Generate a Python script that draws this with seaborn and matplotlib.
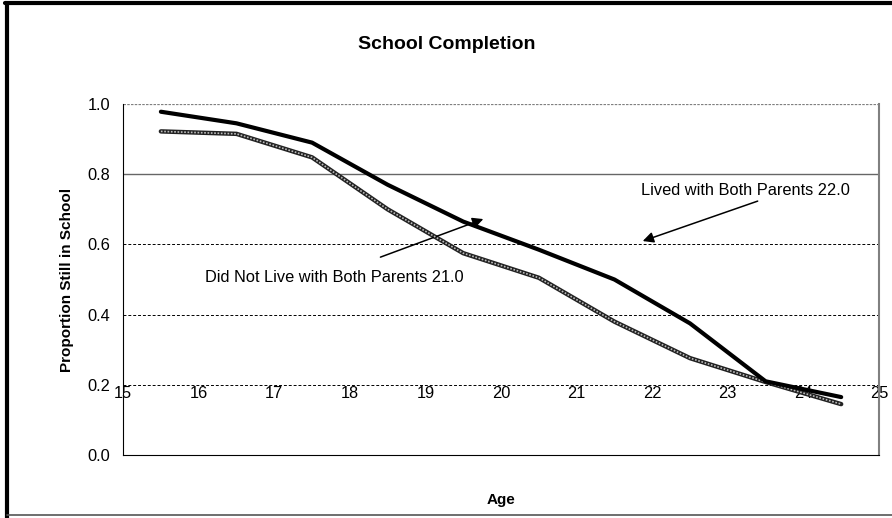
import pandas as pd
import matplotlib
matplotlib.use("Agg")
import matplotlib.pyplot as plt
import seaborn as sns

# values
ages = [15.5, 16.5, 17.5, 18.5, 19.5, 20.5, 21.5, 22.5, 23.5, 24.5]
lived_both = [0.978, 0.945, 0.89, 0.77, 0.665, 0.585, 0.50, 0.375, 0.21, 0.165]
not_both = [0.922, 0.915, 0.848, 0.70, 0.575, 0.505, 0.38, 0.276, 0.208, 0.145]
x_ticks = [15, 16, 17, 18, 19, 20, 21, 22, 23, 24, 25]
y_ticks = [0.0, 0.2, 0.4, 0.6, 0.8, 1.0]

df = pd.DataFrame({"age": ages, "lived": lived_both, "not_lived": not_both})

sns.set_style("white")
plt.rcParams['font.family'] = ['Liberation Sans', 'DejaVu Sans']
plt.rcParams['text.color'] = 'black'
plt.rcParams['axes.labelcolor'] = 'black'
plt.rcParams['xtick.color'] = 'black'
plt.rcParams['ytick.color'] = 'black'

fig = plt.figure(figsize=(8.92, 5.18), dpi=100)
ax = fig.add_axes([0.138, 0.1216, 0.8474, 0.6776])

# gridlines
for v in y_ticks[1:]:
    if v == 0.8:
        ax.axhline(v, color="#666666", lw=1.0, zorder=1)
    elif v == 1.0:
        ax.axhline(v, color="#808080", lw=0.9, ls=(0, (2, 1)), zorder=1)
    else:
        ax.axhline(v, color="black", lw=0.7, ls=(0, (3, 2)), zorder=1)

sns.lineplot(data=df, x="age", y="lived", color="black", lw=3, ax=ax, zorder=4)
sns.lineplot(data=df, x="age", y="not_lived", color="#222222", lw=3.2, ax=ax, zorder=3)
ax.plot(df["age"], df["not_lived"], color="#bbbbbb", lw=1.2, ls=(0, (1, 1)), zorder=3.5)

ax.set_xlim(15, 25)
ax.set_ylim(0, 1)
ax.set_xticks(x_ticks)
ax.set_xticklabels([str(t) for t in x_ticks], fontsize=11.8)
ax.set_yticks(y_ticks)
ax.set_yticklabels([f"{t:.1f}" for t in y_ticks], fontsize=11.8)
ax.tick_params(axis="x", direction="out", length=4, width=0.8, pad=-54, color="black")
ax.tick_params(axis="y", direction="inout", length=6, width=0.8, pad=6, color="black")

ax.spines["top"].set_visible(False)
ax.spines["right"].set_color("#808080")
ax.spines["right"].set_linewidth(1.5)
ax.spines["left"].set_color("black")
ax.spines["left"].set_linewidth(0.8)
ax.spines["bottom"].set_color("black")
ax.spines["bottom"].set_linewidth(0.8)

ax.set_xlabel("Age", fontsize=11, fontweight="bold", labelpad=27)
ax.set_ylabel("Proportion Still in School", fontsize=11, fontweight="bold", labelpad=10)
fig.text(0.501, 0.915, "School Completion", ha="center", va="center",
         fontsize=14, fontweight="bold")

# annotations
ax.annotate("", xy=(21.84, 0.607), xytext=(23.43, 0.726),
            arrowprops=dict(arrowstyle="-|>", color="black", lw=1.1, mutation_scale=16))
ax.text(23.23, 0.755, "Lived with Both Parents 22.0", ha="center", va="center", fontsize=11.8)
ax.annotate("", xy=(19.8, 0.675), xytext=(18.37, 0.561),
            arrowprops=dict(arrowstyle="-|>", color="black", lw=1.1, mutation_scale=16))
ax.text(17.8, 0.505, "Did Not Live with Both Parents 21.0", ha="center", va="center", fontsize=11.8)

# chart frame
fig.add_artist(plt.Line2D([0.008, 0.008], [0.0, 0.994], color="black", lw=3, transform=fig.transFigure))
fig.add_artist(plt.Line2D([0.006, 1.0], [0.994, 0.994], color="black", lw=3, transform=fig.transFigure))
fig.add_artist(plt.Line2D([0.008, 1.0], [0.006, 0.006], color="#555555", lw=1.2, transform=fig.transFigure))

fig.savefig("out.png", dpi=100)
